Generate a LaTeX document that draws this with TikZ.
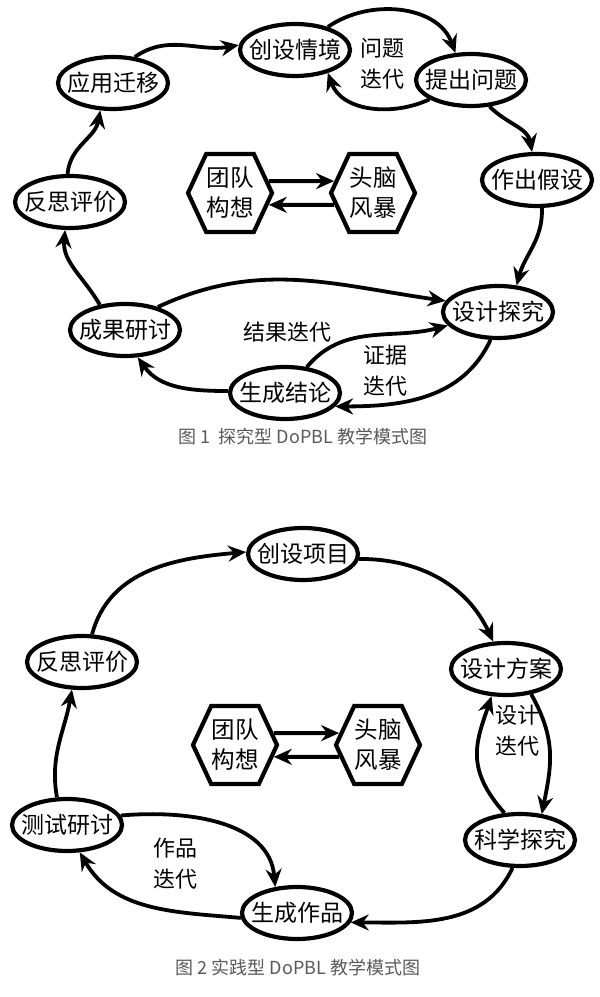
\documentclass[tikz,border=0pt]{standalone}
\usepackage{fontspec}
\setmainfont{Noto Sans CJK SC}
\usetikzlibrary{arrows.meta,shapes.geometric,shapes.symbols}
\newcommand{\zw}[1]{\makebox[0pt]{#1}}
\begin{document}
\begin{tikzpicture}[x=1pt,y=1pt,
  el/.style={draw, ellipse, line width=4.2pt, minimum width=110pt, minimum height=52pt, inner sep=0pt, font=\fontsize{23}{23}\selectfont},
  hex/.style={draw, signal, signal to=east and west, signal pointer angle=130, line width=4.2pt, minimum width=84pt, minimum height=78pt, inner sep=0pt, align=center, font=\fontsize{23.5}{30}\selectfont},
  lab/.style={font=\fontsize{22}{31}\selectfont, align=center},
  captxt/.style={font=\fontsize{18}{18}\selectfont, text=black!65},
  con/.style={line width=3.8pt, -{Stealth[length=18pt,width=16pt,inset=6pt]}},
]
\useasboundingbox (0,0) rectangle (600,997);

% ---------------- Figure 1 ----------------
\node[el] (cs) at (295,947) {\zw{创设情境}};
\node[el] (tc) at (471,917) {\zw{提出问题}};
\node[el] (yy) at (113,914) {\zw{应用迁移}};
\node[el] (zc) at (537,817) {\zw{作出假设}};
\node[el] (fs) at (70,795) {\zw{反思评价}};
\node[hex] (h1) at (230,804) {团队\\构想};
\node[hex] (h2) at (373,804) {头脑\\风暴};
\node[el] (sj) at (498,685) {\zw{设计探究}};
\node[el] (cg) at (125,667) {\zw{成果研讨}};
\node[el] (sc) at (285,604) {\zw{生成结论}};
\node[lab] (l1) at (382,933) {问题\\迭代};
\node[lab] (l2) at (287,665) {结果迭代};
\node[lab] (l3) at (385,626) {证据\\迭代};
\node[captxt] (c1) at (303,560) {图 1\ \ 探究型 DoPBL 教学模式图};

\draw[con] (yy.50) to[out=35,in=190] (cs.175);
\draw[con] (cs.35) to[out=35,in=110] (tc.120);
\draw[con] (tc.205) to[out=205,in=-70] (cs.-35);
\draw[con] (tc.-55) to[out=-45,in=100] (zc.100);
\draw[con] (zc.-80) to[out=-88,in=75] (sj.55);
\draw[con] (cg.35) to[out=25,in=172] (sj.168);
\draw[con] (sc.50) to[out=50,in=195] (sj.195);
\draw[con] (sj.-105) to[out=-115,in=0] (sc.-15);
\draw[con] (sc.178) to[out=180,in=-55] (cg.-65);
\draw[con] (cg.135) to[out=120,in=-95] (fs.-100);
\draw[con] (fs.95) to[out=85,in=-100] (yy.-115);
\draw[con] (h1.17) -- (h2.163);
\draw[con] (h2.197) -- (h1.-17);

% ---------------- Figure 2 ----------------
\node[el] (cx) at (303,443) {\zw{创设项目}};
\node[el] (fs2) at (82,335) {\zw{反思评价}};
\node[el] (fa) at (506,328) {\zw{设计方案}};
\node[hex] (hh1) at (235,252) {团队\\构想};
\node[hex] (hh2) at (378,252) {头脑\\风暴};
\node[el] (kx) at (520,157) {\zw{科学探究}};
\node[el] (cs2) at (67,172) {\zw{测试研讨}};
\node[el] (sz) at (297,84) {\zw{生成作品}};
\node[lab] (l4) at (517,266) {设计\\迭代};
\node[lab] (l5) at (175,133) {作品\\迭代};
\node[captxt] (c2) at (298,29) {图 2 实践型 DoPBL 教学模式图};

\draw[con] (fs2.70) to[out=75,in=185] (cx.178);
\draw[con] (cx.-5) to[out=0,in=115] (fa.115);
\draw[con] (fa.-45) .. controls +(25,-45) and +(10,50) .. (kx.50);
\draw[con] (kx.120) .. controls +(-40,45) and +(-15,-45) .. (fa.-118);
\draw[con] (kx.-105) to[out=-115,in=0] (sz.-10);
\draw[con] (cs2.10) to[out=5,in=95] (sz.130);
\draw[con] (sz.185) to[out=175,in=-60] (cs2.-65);
\draw[con] (cs2.110) to[out=100,in=-100] (fs2.-110);
\draw[con] (hh1.17) -- (hh2.163);
\draw[con] (hh2.197) -- (hh1.-17);
\end{tikzpicture}
\end{document}
